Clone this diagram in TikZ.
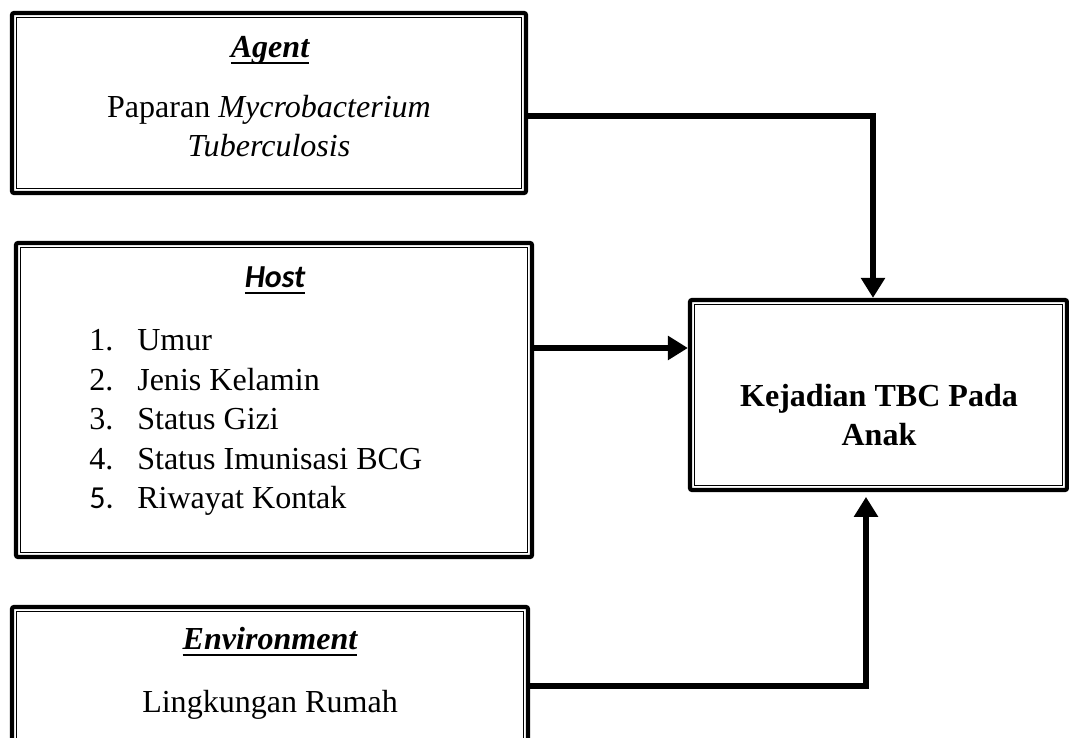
\documentclass[tikz,border=0pt]{standalone}
\usepackage{fontspec}
\setmainfont{Liberation Serif}
\newfontfamily\calfont{Carlito}
\usetikzlibrary{arrows.meta}

\newcommand{\ulword}[1]{\setbox0=\hbox{#1}\rlap{\rule[-4.6pt]{\wd0}{2.1pt}}\box0}

\tikzset{
  tbox/.style={draw, line width=3pt, rounded corners=1.5pt, inner sep=0pt},
  inbox/.style={line width=0.6pt},
  txt/.style={font=\fontsize{22.8}{27.7}\selectfont, inner sep=0pt, anchor=base},
  conn/.style={line width=4.8pt, line join=miter, -{Triangle[width=0.58cm,length=0.5cm]}},
}

\begin{document}
\begin{tikzpicture}
\useasboundingbox (0,0) rectangle (26.725,18.45);

\node[tbox, minimum width=12.85cm, minimum height=4.5cm] (agent) at (6.725,15.875) {};
\node[tbox, minimum width=12.9cm, minimum height=7.85cm] (host) at (6.85,8.45) {};
\node[tbox, minimum width=12.9cm, minimum height=4.5cm] (env) at (6.75,1.025) {};
\node[tbox, minimum width=9.425cm, minimum height=4.75cm] (kej) at (21.9625,8.575) {};
\foreach \b in {agent,host,env,kej}
  \draw[inbox] ([shift={(4.8pt,-4.8pt)}]\b.north west) rectangle ([shift={(-4.8pt,4.8pt)}]\b.south east);

\node[txt] (agenttitle) at (6.75,17.0) {\bfseries\itshape\ulword{Agent}};
\node[txt] (agentline1) at (6.725,15.5) {Paparan \textit{Mycrobacterium}};
\node[txt] (agentline2) at (6.725,14.525) {\textit{Tuberculosis}};

\node[txt] (hosttitle) at (6.875,11.25) {\calfont\bfseries\itshape\ulword{Host}};
\foreach \n/\num/\item in {1/1./Umur, 2/2./Jenis Kelamin, 3/3./Status Gizi,
    4/4./Status Imunisasi BCG, 5/{\calfont 5.}/Riwayat Kontak}{
  \node[txt, anchor=base west] (num\n) at (2.225,{9.675-0.9875*(\n-1)}) {\num};
  \node[txt, anchor=base west] (item\n) at (3.425,{9.675-0.9875*(\n-1)}) {\item};
}

\node[txt] (envtitle) at (6.75,2.2) {\bfseries\itshape\ulword{Environment}};
\node[txt] (envline) at (6.75,0.625) {Lingkungan Rumah};

\node[txt] (kejline1) at (21.975,8.275) {\bfseries Kejadian TBC Pada};
\node[txt] (kejline2) at (21.975,7.3) {\bfseries Anak};

% panah ke kejadian
\coordinate (agentout) at ([yshift=-0.325cm]agent.east);
\draw[conn] (agentout) -| ([xshift=-0.1375cm]kej.north);
\coordinate (hostout) at ([yshift=1.3cm]host.east);
\draw[conn] (hostout) -- (hostout -| kej.west);
\coordinate (envout) at ([yshift=0.275cm]env.east);
\draw[conn, shorten >=0.12cm] (envout) -| ([xshift=-0.3125cm]kej.south);
\end{tikzpicture}
\end{document}
